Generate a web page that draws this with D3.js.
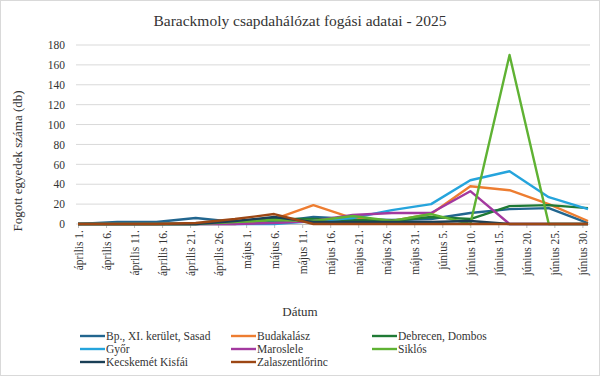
<!DOCTYPE html>
<html lang="hu">
<head>
<meta charset="UTF-8">
<title>Barackmoly</title>
<script src="https://d3js.org/d3.v7.min.js"></script>
<style>
  body { margin: 0; background: #fff; }
  text { font-family: "Liberation Serif", "Times New Roman", serif; fill: #333; }
</style>
</head>
<body>
<svg id="chart" width="600" height="376"></svg>
<script>
// weekly sampling dates
const dates = ["2025-04-01","2025-04-08","2025-04-15","2025-04-22","2025-04-29","2025-05-06","2025-05-13",
               "2025-05-20","2025-05-27","2025-06-03","2025-06-10","2025-06-17","2025-06-24","2025-07-01"];

const names = ["Bp., XI. kerület, Sasad","Budakalász","Debrecen, Dombos","Győr","Maroslele","Siklós","Kecskemét Kisfái","Zalaszentlőrinc"];
const colors = ["#22668f","#ed7d31","#1f7a35","#25a4dc","#a3399f","#5fb233","#1a3f56","#9c4714"];

const bp        = [0, 2, 2, 6, 2, 2, 7, 5, 4, 5, 11, 15, 16, 1];
const budakalasz= [0, 0, 0, 0, 0, 5, 19, 6, 3, 10, 38, 34, 20, 3];
const debrecen  = [0, 0, 0, 0, 2, 5, 5, 4, 3, 7, 5, 18, 19, 16];
const gyor      = [0, 0, 0, 0, 0, 0, 3, 6, 14, 20, 44, 53, 27, 15];
const maroslele = [0, 0, 0, 0, 0, 1, 3, 9, 11, 11, 33, 0, 0, 0];
const siklos    = [0, 0, 0, 0, 2, 4, 3, 8, 3, 10, 0, 170, 0, 0];
const kecskemet = [0, 0, 0, 0, 3, 7, 2, 2, 2, 2, 3, 0, 0, 0];
const zala      = [0, 0, 0, 1, 5, 10, 0, 0, 0, 0, 0, 0, 0, 0];
const series = [bp, budakalasz, debrecen, gyor, maroslele, siklos, kecskemet, zala];

const yTicks = [0, 20, 40, 60, 80, 100, 120, 140, 160, 180];
const months = ["január","február","március","április","május","június","július"];

const svg = d3.select("#chart");
const W = 600, H = 376;
const m = { left: 78, right: 12, top: 45, bottom: 152 };

svg.append("rect").attr("x", 0.5).attr("y", 0.5).attr("width", W - 1).attr("height", H - 1)
  .attr("fill", "#fff").attr("stroke", "#d9d9d9");

const parse = d3.timeParse("%Y-%m-%d");
const x = d3.scaleTime()
  .domain([parse("2025-04-01"), parse("2025-07-01")])
  .range([m.left, W - m.right]);
const y = d3.scaleLinear().domain([0, 180]).range([H - m.bottom, m.top]);

// gridlines
svg.append("g")
  .selectAll("line").data(yTicks).enter().append("line")
  .attr("x1", m.left - 2).attr("x2", W - m.right + 2)
  .attr("y1", d => y(d)).attr("y2", d => y(d))
  .attr("stroke", "#d9d9d9").attr("stroke-width", 1);

// y axis labels
svg.append("g").attr("transform", `translate(${m.left - 10},0)`)
  .call(d3.axisLeft(y).tickValues(yTicks).tickSize(0))
  .call(g => g.select(".domain").remove())
  .call(g => g.selectAll("text").attr("font-size", "11.5px"));

// x axis
const xTicks = d3.timeDay.range(parse("2025-04-01"), parse("2025-07-01"), 1)
  .filter((d, i) => i % 5 === 0);
const fmt = d => months[d.getMonth()] + " " + d.getDate() + ".";
const xAxis = svg.append("g").attr("transform", `translate(0,${y(0)})`)
  .call(d3.axisBottom(x).tickValues(xTicks).tickFormat(fmt).tickSize(4).tickSizeOuter(0));
xAxis.select(".domain").attr("stroke", "#bfbfbf");
xAxis.selectAll(".tick line").attr("stroke", "#bfbfbf");
xAxis.selectAll("text")
  .attr("font-size", "11.5px")
  .attr("transform", "rotate(-90)")
  .attr("text-anchor", "end")
  .attr("x", -6).attr("y", 0).attr("dy", "0.35em");

// lines
const line = d3.line().x((d, i) => x(parse(dates[i]))).y(d => y(d));
svg.append("g").selectAll("path").data(series).enter().append("path")
  .attr("d", d => line(d))
  .attr("fill", "none")
  .attr("stroke", (d, i) => colors[i])
  .attr("stroke-width", 2.4)
  .attr("stroke-linejoin", "round");

// title and axis titles
svg.append("text").attr("x", W / 2).attr("y", 26).attr("text-anchor", "middle")
  .attr("font-size", "15.5px").text("Barackmoly csapdahálózat fogási adatai - 2025");
svg.append("text").attr("transform", "translate(22,161) rotate(-90)")
  .attr("text-anchor", "middle").attr("font-size", "13px")
  .text("Fogott egyedek száma (db)");
svg.append("text").attr("x", W / 2).attr("y", 316).attr("text-anchor", "middle")
  .attr("font-size", "13px").text("Dátum");

// legend
const colX = [80, 231, 372];
const leg = svg.append("g").selectAll("g").data(names).enter().append("g")
  .attr("transform", (d, i) => `translate(${colX[i % 3]},${336 + Math.floor(i / 3) * 13})`);
leg.append("line").attr("x1", 0).attr("x2", 25).attr("y1", 0).attr("y2", 0)
  .attr("stroke", (d, i) => colors[i]).attr("stroke-width", 2.4);
leg.append("text").attr("x", 26).attr("y", 0).attr("dy", "0.35em")
  .attr("font-size", "11.5px").text(d => d);
</script>
</body>
</html>
